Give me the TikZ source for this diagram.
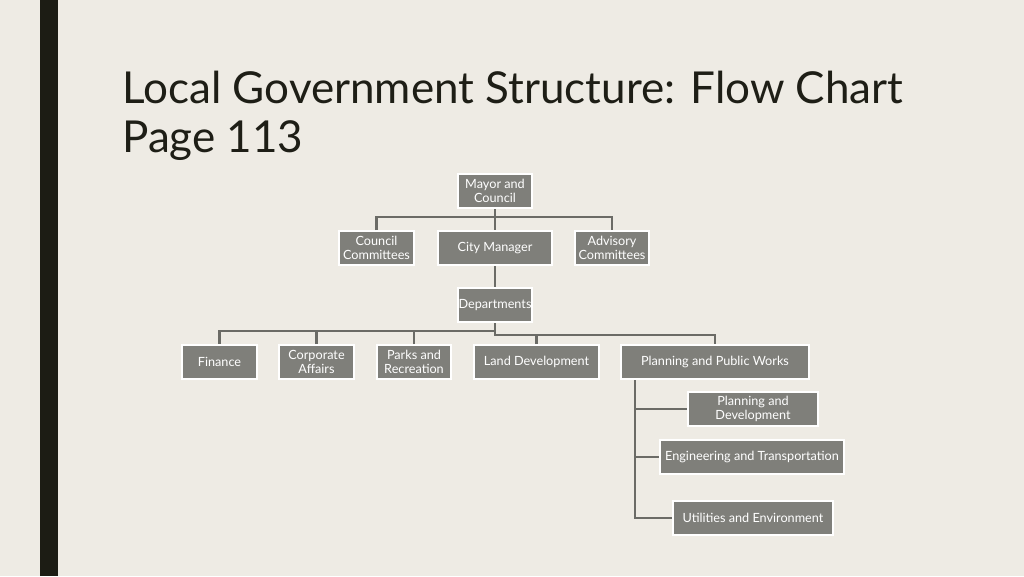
\documentclass[tikz,border=0pt]{standalone}
\usepackage{fontspec}
\setmainfont{Lato}
\definecolor{bg}{HTML}{EEEBE4}
\definecolor{boxc}{HTML}{7F7F7A}
\definecolor{linec}{HTML}{6B6B66}
\definecolor{barc}{HTML}{1C1C14}
\definecolor{titlec}{HTML}{1E1E16}
\begin{document}
\begin{tikzpicture}[x=0.75pt,y=-0.75pt,
  bx/.style={fill=boxc,draw=white,line width=1.5pt,text=white,font=\fontsize{9.5}{10.5}\selectfont,align=center,inner sep=0pt},
  ln/.style={draw=linec,line width=2.2pt}]
\fill[bg] (0,0) rectangle (1024,576);
\useasboundingbox (0,0) rectangle (1024,576);
\fill[barc] (40,0) rectangle (58,576);
\node[anchor=base west,text=titlec,font=\fontsize{33}{37}\selectfont,inner sep=0pt] (t1) at (122,103) {Local Government Structure: Flow Chart};
\node[anchor=base west,text=titlec,font=\fontsize{33}{37}\selectfont,inner sep=0pt] (t2) at (122,152) {Page 113};
\newcommand{\bxnode}[6]{\node[bx,minimum width=#4*0.75pt-1.5pt,minimum height=#5*0.75pt-1.5pt] (#1) at (#2,#3) {#6};}
\bxnode{may}{495}{191}{76}{36}{Mayor and\\Council}
\bxnode{cc}{376.5}{248}{77}{36}{Council\\Committees}
\bxnode{cm}{495}{248}{116}{36}{City Manager}
\bxnode{ac}{612}{248}{76}{36}{Advisory\\Committees}
\bxnode{dep}{495}{305}{76}{36}{Departments}
\bxnode{fin}{219.5}{362}{77}{36}{Finance}
\bxnode{corp}{316.5}{362}{77}{36}{Corporate\\Affairs}
\bxnode{park}{414}{362}{76}{36}{Parks and\\Recreation}
\bxnode{land}{536.5}{362}{127}{36}{Land Development}
\bxnode{ppw}{715}{362}{190}{36}{Planning and Public Works}
\bxnode{pd}{753}{409}{132}{36}{Planning and\\Development}
\bxnode{eng}{752}{457}{186}{36}{Engineering and Transportation}
\bxnode{util}{753}{518}{162}{36}{Utilities and Environment}
\draw[ln] (may.south) -- ++(0,8) coordinate (m1);
\draw[ln] (cc.north) |- (m1) -| (ac.north);
\draw[ln] (m1) -- (cm.north);
\draw[ln] (cm.south) -- (dep.north);
\draw[ln] (dep.south) |- (fin.north |- 0,331) -- (fin.north);
\draw[ln] (corp.north) -- (corp.north |- 0,331);
\draw[ln] (park.north) -- (park.north |- 0,331);
\draw[ln] (dep.south) |- (land.north |- 0,335) -| (ppw.north);
\draw[ln] (land.north) -- (land.north |- 0,335);
\coordinate (p0) at (635,380);
\draw[ln] (p0) -- (p0 |- util.west) -- (util.west);
\draw[ln] (p0 |- pd.west) -- (pd.west);
\draw[ln] (p0 |- eng.west) -- (eng.west);
\end{tikzpicture}
\end{document}
